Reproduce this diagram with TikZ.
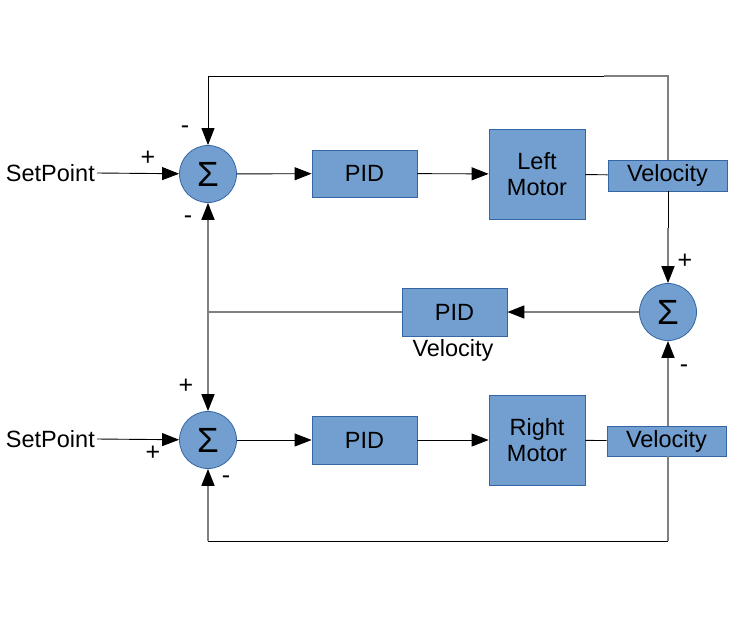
\documentclass[tikz,border=0pt]{standalone}
\usepackage{fontspec}
\setmainfont{Liberation Sans}
\usetikzlibrary{arrows.meta}
\definecolor{boxfill}{HTML}{729FCF}
\definecolor{boxline}{HTML}{3465A4}
\definecolor{wiregrey}{HTML}{808080}
\begin{document}
\begin{tikzpicture}[x=1pt,y=-1pt,
  block/.style={draw=boxline, fill=boxfill, line width=0.8pt, inner sep=0pt, align=center, font=\fontsize{23.5}{26}\selectfont},
  sumnode/.style={circle, draw=boxline, fill=boxfill, line width=0.8pt, minimum size=57pt, inner sep=0pt, font=\fontsize{35}{35}\selectfont},
  wire/.style={line width=0.9pt, black},
  gwire/.style={line width=1.6pt, wiregrey},
  arr/.style={-{Triangle[length=17pt,width=13pt,color=black]}},
  sign/.style={font=\fontsize{25}{25}\selectfont, inner sep=0pt},
  lbl/.style={font=\fontsize{23.5}{26}\selectfont, inner sep=2pt}]
\useasboundingbox (0,0) rectangle (733,619);
\fill[white] (0,0) rectangle (733,619);

% blocks
\node[block, minimum width=105pt, minimum height=47pt] (pid1) at (364.5,173.5) {PID};
\node[block, minimum width=96pt, minimum height=90pt] (lm) at (537,174) {Left\\Motor};
\node[block, minimum width=119pt, minimum height=31pt] (v1) at (667.5,175.5) {\raisebox{-1.5pt}{Velocity}};
\node[block, minimum width=105pt, minimum height=48pt] (pid2) at (454.5,312) {PID};
\node[block, minimum width=105pt, minimum height=48pt] (pid3) at (364.5,440) {PID};
\node[block, minimum width=96pt, minimum height=90pt] (rm) at (537,440) {Right\\Motor};
\node[block, minimum width=119pt, minimum height=30pt] (v2) at (666.5,441) {Velocity};

% sums
\node[sumnode] (s1) at (208,174) {Σ};
\node[sumnode] (s2) at (208,440) {Σ};
\node[sumnode] (s3) at (668,312) {Σ};

% labels
\node[lbl, anchor=east] (sp1) at (97,173) {SetPoint};
\node[lbl, anchor=east] (sp2) at (97,439) {SetPoint};
\node[lbl] (vlab) at (453,350) {Velocity};

% signs
\node[sign] (p1) at (148,158) {+};
\node[sign] (m1) at (185,130) {-};
\node[sign] (m2) at (188,220) {-};
\node[sign] (p2) at (685,261) {+};
\node[sign] (m3) at (684,369) {-};
\node[sign] (p3) at (186,386) {+};
\node[sign] (p4) at (153,453) {+};
\node[sign] (m4) at (226,480) {-};

% coordinates
\coordinate (tl) at (208,76);
\coordinate (tm) at (604,76);
\coordinate (vm) at (668,228);
\coordinate (j) at (208,312);
\coordinate (bl) at (208,541);

% top chain
\draw[wire,arr] (sp1.east) -- (s1);
\draw[wire,arr] (s1) -- (pid1);
\draw[wire,arr] (pid1) -- (lm);
\draw[wire] (lm) -- (v1);
% bottom chain
\draw[wire,arr] (sp2.east) -- (s2);
\draw[wire,arr] (s2) -- (pid3);
\draw[wire,arr] (pid3) -- (rm);
\draw[wire] (rm) -- (v2);

% feedback
\draw[gwire] (s3.north |- v1.north) -- (s3.north |- tl) -- (tm);
\draw[wire,arr] (tm) -- (tl) -- (s1.north);
\draw[wire] (s3.north |- v1.south) -- (vm);
\draw[gwire,arr] (vm) -- (s3.north);
\draw[gwire,arr] (s3) -- (pid2);
\draw[gwire] (pid2.west) -- (j);
\draw[gwire,arr] (j) -- (s1.south);
\draw[gwire,arr] (j) -- (s2.north);
\draw[gwire,arr] (s3.south |- v2.north) -- (s3.south);
\draw[gwire] (s3.south |- v2.south) -- (s3.south |- bl);
\draw[wire] (s3.south |- bl) -- (bl);
\draw[gwire,arr] (bl) -- (s2.south);
\end{tikzpicture}
\end{document}
